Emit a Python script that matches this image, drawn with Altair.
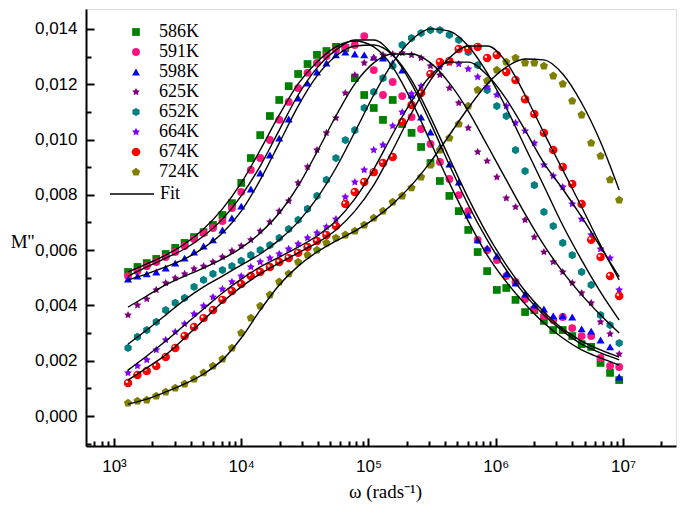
import altair as alt
import pandas as pd

# angular frequency grid (rad/s)
FREQ = [1290, 1530, 1810, 2150, 2550, 3030, 3590, 4260, 5060, 6000,
        7120, 8450, 10000, 11900, 14100, 16800, 19900, 23600, 28000, 33200,
        39400, 46700, 55500, 65800, 78100, 92600, 110000, 130000, 155000, 184000,
        218000, 259000, 307000, 364000, 432000, 512000, 608000, 721000, 856000, 1020000,
        1210000, 1430000, 1700000, 2010000, 2390000, 2830000, 3360000, 3990000, 4730000, 5620000,
        6660000, 7910000, 9330000]

SERIES = ["586K", "591K", "598K", "625K", "652K", "664K", "674K", "724K"]

# M'' values in units of 1e-3
M586 = [5.21, 5.39, 5.53, 5.68, 5.86, 6.08, 6.26, 6.47, 6.65, 6.91,
        7.27, 7.70, 8.43, 9.33, 10.16, 10.85, 11.43, 11.93, 12.37, 12.73,
        13.06, 13.20, 13.35, 13.31, 12.22, 11.61, 11.14, 10.71, 11.43, 10.56,
        10.24, 9.73, 9.15, 8.50, 7.96, 7.41, 6.73, 5.93, 5.24, 4.56,
        4.63, 4.20, 3.76, 3.83, 3.44, 3.11, 3.11, 2.89, 2.60, 2.50,
        1.92, 1.56, 1.30]
M591 = [5.06, 5.24, 5.42, 5.57, 5.75, 5.93, 6.15, 6.40, 6.62, 6.80,
        7.05, 7.52, 8.10, 8.90, 9.33, 9.98, 10.71, 11.36, 11.86, 12.41,
        12.77, 13.02, 13.24, 13.35, 13.42, 13.74, 12.51, 11.61, 12.08, 11.57,
        10.81, 10.38, 9.84, 9.19, 8.57, 7.99, 7.41, 6.37, 6.00, 5.64,
        5.06, 4.85, 4.23, 3.87, 3.62, 3.47, 3.58, 3.18, 2.89, 2.89,
        2.10, 1.81, 1.77]
M598 = [4.95, 5.06, 5.14, 5.21, 5.35, 5.53, 5.71, 5.93, 6.15, 6.37,
        6.73, 7.16, 7.59, 8.21, 8.79, 9.44, 10.05, 10.74, 11.50, 12.04,
        12.44, 12.77, 13.06, 13.16, 13.09, 13.06, 12.98, 12.95, 12.77, 12.51,
        11.61, 10.81, 10.27, 9.73, 9.11, 8.46, 7.27, 6.37, 6.08, 5.79,
        5.14, 4.81, 4.41, 4.01, 3.87, 3.62, 3.62, 3.58, 3.15, 3.07,
        2.75, 2.50, 1.41]
M625 = [3.65, 4.01, 4.23, 4.56, 4.81, 4.99, 5.14, 5.32, 5.42, 5.57,
        5.75, 5.97, 6.15, 6.37, 6.69, 7.02, 7.41, 7.78, 8.43, 9.01,
        9.62, 10.24, 10.78, 11.68, 12.33, 12.77, 12.95, 13.06, 13.09, 13.13,
        13.06, 12.95, 12.66, 12.33, 11.86, 11.32, 10.42, 9.55, 9.22, 8.64,
        7.88, 7.56, 7.09, 6.47, 5.93, 5.57, 5.21, 4.81, 4.45, 4.09,
        3.40, 2.97, 2.24]
M652 = [2.46, 2.86, 3.11, 3.40, 3.83, 4.09, 4.27, 4.67, 4.92, 5.14,
        5.28, 5.42, 5.61, 5.82, 6.00, 6.18, 6.44, 6.76, 7.09, 7.49,
        7.96, 8.54, 9.33, 9.98, 10.34, 11.14, 11.72, 12.22, 12.66, 13.42,
        13.67, 13.85, 13.96, 13.96, 13.78, 13.60, 13.16, 12.69, 11.79, 11.21,
        10.85, 9.62, 8.86, 8.35, 7.38, 6.87, 6.26, 5.82, 5.21, 4.74,
        3.65, 3.29, 2.64]
M664 = [1.56, 1.81, 2.03, 2.39, 2.75, 3.04, 3.33, 3.69, 3.98, 4.30,
        4.59, 4.85, 5.06, 5.39, 5.57, 5.71, 5.86, 6.04, 6.22, 6.44,
        6.62, 6.84, 7.12, 7.92, 8.46, 8.90, 9.62, 9.80, 10.49, 10.99,
        11.65, 11.93, 12.33, 12.62, 12.77, 12.73, 12.55, 12.26, 11.90, 11.61,
        11.21, 10.60, 10.31, 9.87, 9.08, 8.68, 8.28, 7.67, 7.12, 6.55,
        6.04, 5.71, 4.56]
M674 = [1.19, 1.48, 1.63, 1.81, 2.13, 2.46, 2.89, 3.22, 3.54, 3.83,
        4.20, 4.52, 4.77, 5.06, 5.21, 5.39, 5.57, 5.71, 5.90, 6.11,
        6.33, 6.55, 6.87, 7.67, 8.10, 8.46, 8.82, 9.15, 9.37, 10.63,
        11.25, 11.68, 12.37, 12.80, 12.84, 13.27, 13.27, 13.35, 12.95, 13.06,
        12.44, 12.15, 11.46, 10.92, 10.24, 9.62, 9.01, 8.39, 7.67, 6.37,
        5.75, 5.06, 4.34]
M724 = [0.47, 0.54, 0.58, 0.72, 0.87, 1.01, 1.16, 1.34, 1.56, 1.81,
        2.06, 2.46, 3.00, 3.54, 3.98, 4.38, 4.85, 5.14, 5.57, 5.82,
        6.00, 6.26, 6.44, 6.55, 6.69, 6.91, 7.16, 7.41, 7.74, 7.96,
        8.25, 8.64, 9.08, 9.62, 10.05, 10.56, 11.21, 11.79, 12.12, 12.51,
        12.80, 12.95, 12.77, 12.77, 12.66, 12.30, 12.01, 11.39, 10.89, 9.87,
        9.40, 8.54, 7.81]

# fit curves, read at every second frequency
FIT_FREQ = [1290, 1810, 2550, 3590, 5060, 7120, 10000, 14100, 19900, 28000,
            39400, 55500, 78100, 110000, 155000, 218000, 307000, 432000, 608000, 856000,
            1210000, 1700000, 2390000, 3360000, 4730000, 6660000, 9330000]
FIT586 = [5.21, 5.50, 5.82, 6.22, 6.76, 7.49, 8.43, 9.62, 10.89, 12.01, 12.80, 13.35, 13.56, 13.35,
          12.62, 11.39, 9.91, 8.43, 7.05, 5.82, 4.85, 4.05, 3.36, 2.82, 2.39, 2.10, 1.84]
FIT591 = [5.06, 5.39, 5.71, 6.04, 6.51, 7.12, 7.96, 9.04, 10.34, 11.61, 12.59, 13.24, 13.60, 13.60,
          13.06, 12.01, 10.60, 9.08, 7.63, 6.37, 5.28, 4.38, 3.65, 3.07, 2.60, 2.28, 2.03]
FIT598 = [4.92, 5.14, 5.39, 5.68, 6.08, 6.62, 7.41, 8.54, 9.87, 11.21, 12.30, 13.02, 13.38, 13.42,
          13.06, 12.15, 10.81, 9.33, 7.88, 6.58, 5.46, 4.52, 3.76, 3.15, 2.71, 2.39, 2.13]
FIT625 = [3.94, 4.34, 4.74, 5.06, 5.35, 5.68, 6.08, 6.62, 7.34, 8.32, 9.55, 10.85, 12.01, 12.77,
          13.09, 13.09, 12.77, 12.04, 11.03, 9.80, 8.54, 7.31, 6.18, 5.21, 4.38, 3.65, 3.00]
FIT652 = [2.60, 3.11, 3.65, 4.20, 4.67, 5.06, 5.46, 5.86, 6.37, 7.02, 7.88, 8.97, 10.27, 11.61,
          12.77, 13.60, 14.00, 13.92, 13.38, 12.41, 11.14, 9.73, 8.32, 6.90, 5.64, 4.48, 3.47]
FIT664 = [1.66, 2.17, 2.71, 3.29, 3.87, 4.45, 4.95, 5.39, 5.75, 6.11, 6.51, 7.05, 7.85, 8.93,
          10.20, 11.39, 12.30, 12.80, 12.80, 12.33, 11.46, 10.34, 9.15, 8.21, 7.20, 6.11, 5.03]
FIT674 = [1.30, 1.74, 2.21, 2.82, 3.47, 4.12, 4.67, 5.14, 5.53, 5.90, 6.26, 6.73, 7.41, 8.35,
          9.62, 10.96, 12.15, 12.95, 13.38, 13.38, 12.80, 11.61, 10.24, 8.90, 7.56, 6.18, 4.92]
FIT724 = [0.43, 0.61, 0.87, 1.16, 1.52, 2.03, 2.82, 3.83, 4.74, 5.42, 5.93, 6.33, 6.69, 7.12,
          7.67, 8.35, 9.19, 10.16, 11.14, 12.01, 12.62, 12.91, 12.88, 12.37, 11.32, 9.91, 8.17]

X_MAJOR = [1e3, 1e4, 1e5, 1e6, 1e7]
X_MINOR = [700, 800, 900,
           2e3, 3e3, 4e3, 5e3, 6e3, 7e3, 8e3, 9e3,
           2e4, 3e4, 4e4, 5e4, 6e4, 7e4, 8e4, 9e4,
           2e5, 3e5, 4e5, 5e5, 6e5, 7e5, 8e5, 9e5,
           2e6, 3e6, 4e6, 5e6, 6e6, 7e6, 8e6, 9e6, 2e7]
Y_MAJOR = [0.0, 0.002, 0.004, 0.006, 0.008, 0.010, 0.012, 0.014]
Y_MINOR = [-0.001, 0.001, 0.003, 0.005, 0.007, 0.009, 0.011, 0.013]

COLORS = ["#008000", "#FF1480", "#0000FF", "#800080", "#008080", "#8000FF", "#FF0000", "#808000"]
STAR = ("M0,-1L0.294,-0.405L0.951,-0.309L0.476,0.155L0.588,0.809L0,0.5L-0.588,0.809"
        "L-0.476,0.155L-0.951,-0.309L-0.294,-0.405Z")
HEX = "M0,-1L0.866,-0.5L0.866,0.5L0,1L-0.866,0.5L-0.866,-0.5Z"
PENT = "M0,-1L0.951,-0.309L0.588,0.809L-0.588,0.809L-0.951,-0.309Z"
SHAPES = ["square", "circle", "triangle-up", STAR, HEX, STAR, "circle", PENT]
SIZES = [60, 74, 82, 125, 88, 125, 74, 92]

pts_vals = [M586, M591, M598, M625, M652, M664, M674, M724]
fit_vals = [FIT586, FIT591, FIT598, FIT625, FIT652, FIT664, FIT674, FIT724]

rows = []
for s, vals in zip(SERIES, pts_vals):
    for f, v in zip(FREQ, vals):
        rows.append({"T": s, "w": f, "M": v / 1000.0})
df = pd.DataFrame(rows)

frows = []
for s, vals in zip(SERIES, fit_vals):
    for f, v in zip(FIT_FREQ, vals):
        frows.append({"T": s, "w": f, "M": v / 1000.0, "lab": "Fit"})
fdf = pd.DataFrame(frows)

W, H = 590, 437
xscale = alt.Scale(type="log", domain=[603, 2.608e7], nice=False)
yscale = alt.Scale(domain=[-0.001085, 0.01472], nice=False, zero=False)

SERIF = "Liberation Serif"
SANS = "Liberation Sans"

leg = alt.Legend(title=None, orient="none", legendX=41, legendY=14, labelFont=SERIF,
                 labelFontSize=18, labelColor="black", rowPadding=2, labelOffset=14,
                 padding=0, symbolStrokeWidth=0)

x_lab = ("datum.value < 5000 ? '10\u00b3' : datum.value < 50000 ? '10\u2074' : "
         "datum.value < 500000 ? '10\u2075' : datum.value < 5000000 ? '10\u2076' : '10\u2077'")

points = alt.Chart(df).mark_point(filled=True, opacity=1, strokeWidth=0).encode(
    x=alt.X("w:Q", scale=xscale,
            axis=alt.Axis(orient="bottom", values=X_MAJOR, labelExpr=x_lab, ticks=False, tickSize=0,
                          labelPadding=12, labelFont=SANS, labelFontSize=17, labelColor="black",
                          labelOverlap=False, labelFlush=False, grid=False,
                          domainColor="black", domainWidth=2,
                          title="\u03c9 (rads\u207b\u00b9)", titleFont=SERIF, titleFontSize=19,
                          titleFontWeight="normal", titleColor="black", titleX=299, titleY=51,
                          titleAlign="center", titleBaseline="alphabetic")),
    y=alt.Y("M:Q", scale=yscale,
            axis=alt.Axis(orient="left", values=Y_MAJOR,
                          labelExpr="replace(format(datum.value, '.3f'), '.', ',')",
                          ticks=False, tickSize=0, labelPadding=9, labelFont=SANS, labelFontSize=17,
                          labelColor="black", grid=False, domainColor="black", domainWidth=2,
                          title="M''", titleFont=SERIF, titleFontSize=19, titleFontWeight="normal",
                          titleColor="black", titleAngle=0, titleX=-64, titleY=232,
                          titleAlign="center", titleBaseline="middle")),
    color=alt.Color("T:N", scale=alt.Scale(domain=SERIES, range=COLORS), legend=leg),
    shape=alt.Shape("T:N", scale=alt.Scale(domain=SERIES, range=SHAPES), legend=leg),
    size=alt.Size("T:N", scale=alt.Scale(domain=SERIES, range=SIZES), legend=leg),
)

highlight = alt.Chart(df[df["T"] == "674K"]).mark_point(
    filled=True, color="white", size=6, opacity=0.95, strokeWidth=0, xOffset=-1.3, yOffset=-1.3
).encode(
    x=alt.X("w:Q", scale=xscale, axis=None),
    y=alt.Y("M:Q", scale=yscale, axis=None),
)

fits = alt.Chart(fdf).mark_line(interpolate="monotone", strokeWidth=1.4).encode(
    x=alt.X("w:Q", scale=xscale, axis=None),
    y=alt.Y("M:Q", scale=yscale, axis=None),
    detail="T:N",
    stroke=alt.Stroke("lab:N", scale=alt.Scale(domain=["Fit"], range=["black"]),
                      legend=alt.Legend(title=None, orient="none", legendX=23, legendY=162,
                                        symbolType="stroke", symbolSize=1936, symbolStrokeWidth=1.4,
                                        labelFont=SERIF, labelFontSize=18, labelColor="black",
                                        labelOffset=5, padding=0)),
)

tick_df = pd.DataFrame({"w": [1e5], "M": [0.005]})


def tick_layer(xvals, yvals, size):
    return alt.Chart(tick_df).mark_point(opacity=0).encode(
        x=alt.X("w:Q", scale=xscale,
                axis=alt.Axis(orient="top", offset=-H, values=xvals, labels=False, domain=False,
                              tickSize=size, tickWidth=2, tickColor="black", title=None, grid=False)),
        y=alt.Y("M:Q", scale=yscale,
                axis=alt.Axis(orient="right", offset=-W, values=yvals, labels=False, domain=False,
                              tickSize=size, tickWidth=2, tickColor="black", title=None, grid=False)),
    )


chart = alt.layer(
    points, highlight, fits, tick_layer(X_MAJOR, Y_MAJOR, 8), tick_layer(X_MINOR, Y_MINOR, 5)
).resolve_scale(
    x="independent", y="independent"
).properties(
    width=W, height=H,
    autosize=alt.AutoSizeParams(type="none"),
    padding={"left": 78, "top": 1, "right": 1, "bottom": 56},
).configure_view(
    stroke="black", strokeWidth=2
).configure(background="white")

chart.save("out.html", embed_options={"renderer": "svg", "actions": False})
